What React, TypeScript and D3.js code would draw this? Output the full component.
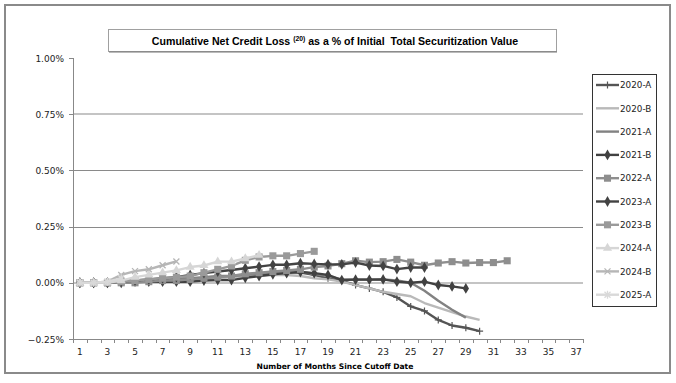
import React from "react";
import * as d3 from "d3";

const months = d3.range(1, 38);
const yTicks = [-0.25, 0, 0.25, 0.5, 0.75, 1.0];
const xLabelMonths = [1, 3, 5, 7, 9, 11, 13, 15, 17, 19, 21, 23, 25, 27, 29, 31, 33, 35, 37];

const s2020A = [0, 0, 0, 0.005, 0.01, 0.01, 0.015, 0.015, 0.02, 0.02, 0.025, 0.03, 0.035, 0.04, 0.045, 0.05, 0.045, 0.035, 0.02, 0.01, -0.01, -0.025, -0.04, -0.065, -0.105, -0.125, -0.165, -0.19, -0.2, -0.215];
const s2020B = [0, 0, 0, 0.005, 0.005, 0.01, 0.01, 0.015, 0.015, 0.02, 0.02, 0.025, 0.03, 0.03, 0.035, 0.035, 0.03, 0.02, 0.015, 0.005, -0.01, -0.025, -0.04, -0.05, -0.06, -0.09, -0.11, -0.13, -0.15, -0.165];
const s2021A = [0, 0, 0, 0.005, 0.01, 0.01, 0.015, 0.02, 0.02, 0.025, 0.03, 0.03, 0.035, 0.04, 0.045, 0.05, 0.05, 0.04, 0.03, 0.015, 0.015, 0.015, 0.015, 0.01, 0.0, -0.035, -0.08, -0.12, -0.155];
const s2021B = [0, 0, 0, 0, 0.005, 0.005, 0.005, 0.005, 0.005, 0.01, 0.012, 0.012, 0.022, 0.03, 0.038, 0.043, 0.048, 0.043, 0.035, 0.012, 0.014, 0.014, 0.015, 0.005, 0.0, 0.005, -0.01, -0.016, -0.025];
const s2022A = [0, 0, 0, 0, 0, 0.005, 0.01, 0.01, 0.015, 0.02, 0.025, 0.03, 0.04, 0.045, 0.05, 0.055, 0.06, 0.07, 0.075, 0.085, 0.098, 0.092, 0.094, 0.104, 0.092, 0.078, 0.088, 0.094, 0.088, 0.09, 0.09, 0.098];
const s2023A = [0, 0, 0, 0.005, 0.01, 0.015, 0.02, 0.025, 0.035, 0.043, 0.05, 0.057, 0.065, 0.072, 0.08, 0.08, 0.087, 0.084, 0.082, 0.082, 0.09, 0.077, 0.075, 0.061, 0.068, 0.068];
const s2023B = [0, 0, 0, 0.005, 0.01, 0.015, 0.02, 0.025, 0.03, 0.045, 0.06, 0.075, 0.1, 0.115, 0.12, 0.12, 0.13, 0.14];
const s2024A = [0, 0, 0, 0.01, 0.025, 0.035, 0.045, 0.055, 0.07, 0.077, 0.094, 0.094, 0.108, 0.123];
const s2024B = [0, 0, 0.005, 0.035, 0.052, 0.06, 0.078, 0.095];
const s2025A = [0, 0, 0.005, 0.02];

type Marker = "plus" | "none" | "diamond" | "square" | "triangle" | "x" | "star";
const seriesNames = ["2020-A", "2020-B", "2021-A", "2021-B", "2022-A", "2023-A", "2023-B", "2024-A", "2024-B", "2025-A"];
const seriesValues = [s2020A, s2020B, s2021A, s2021B, s2022A, s2023A, s2023B, s2024A, s2024B, s2025A];
const seriesColors = ["#555555", "#b9b9b9", "#828282", "#414141", "#8e8e8e", "#434343", "#9a9a9a", "#d6d6d6", "#b6b6b6", "#d9d9d9"];
const seriesMarkers: Marker[] = ["plus", "none", "none", "diamond", "square", "diamond", "square", "triangle", "x", "star"];

function MarkerShape({ kind, color, x, y }: { kind: Marker; color: string; x: number; y: number }) {
  const t = `translate(${x},${y})`;
  if (kind === "none") return null;
  if (kind === "plus")
    return <path transform={t} d="M-3.5,0H3.5M0,-3.5V3.5" stroke={color} strokeWidth={1.2} fill="none" />;
  if (kind === "x")
    return <path transform={t} d="M-3,-3L3,3M-3,3L3,-3" stroke={color} strokeWidth={1.3} fill="none" />;
  if (kind === "star")
    return <path transform={t} d="M-3,-3L3,3M-3,3L3,-3M0,-4V4" stroke={color} strokeWidth={1.3} fill="none" />;
  const sym =
    kind === "diamond" ? d3.symbolDiamond : kind === "square" ? d3.symbolSquare : d3.symbolTriangle;
  const size = kind === "diamond" ? 34 : kind === "square" ? 50 : 36;
  return <path transform={t} d={d3.symbol(sym, size)() || ""} fill={color} stroke="none" />;
}

export default function App() {
  const W = 676, H = 383;
  const left = 73, right = 583, top = 58, bottom = 339;
  const x = d3.scaleBand<number>().domain(months).range([left, right]);
  const cx = (m: number) => (x(m) as number) + x.bandwidth() / 2;
  const y = d3.scaleLinear().domain([-0.25, 1.0]).range([bottom, top]);
  const line = d3
    .line<number>()
    .x((_, i) => cx(i + 1))
    .y((d) => y(d));
  const font = "'DejaVu Sans', Verdana, sans-serif";
  const boundaries = d3.range(0, 38).map((i) => left + i * x.step());
  const legendX = 592, legendTop = 74;
  const rowH = 23.3;

  return (
    <svg width={W} height={H} style={{ position: "absolute", left: 0, top: 0, background: "#fff" }}>
      <rect x={0} y={0} width={W} height={H} fill="#fff" />
      <rect x={5} y={5} width={665} height={368} fill="#fff" stroke="#8a8a8a" strokeWidth={2} />

      {/* title box */}
      <rect x={108.5} y={29.5} width={448} height={22} fill="#fff" stroke="#a0a0a0" strokeWidth={1} />
      <line x1={109} x2={557} y1={52} y2={52} stroke="#777" strokeWidth={1} />
      <text x={335} y={44.5} textAnchor="middle" fontFamily="'Liberation Sans', Arial, sans-serif" fontWeight="bold" fontSize={10.6} fill="#000" style={{ whiteSpace: "pre" }}>
        {"Cumulative Net Credit Loss "}
        <tspan fontSize={6.8} dy={-3.8}>(20)</tspan>
        <tspan dy={3.8}>{" as a % of Initial\u00a0 Total Securitization Value"}</tspan>
      </text>

      {/* gridlines */}
      {yTicks.filter((t) => t > -0.25 && t < 1).map((t) => {
        const light = t === 0 || t === 0.75;
        return (
          <line key={t} x1={left} x2={right} y1={Math.round(y(t)) + (light ? 0 : 0.5)} y2={Math.round(y(t)) + (light ? 0 : 0.5)}
            stroke={light ? "#c4c4c4" : "#8a8a8a"} strokeWidth={light ? 2 : 1} />
        );
      })}

      {/* axes */}
      <line x1={left + 0.5} x2={left + 0.5} y1={top} y2={bottom} stroke="#888" strokeWidth={1} />
      <line x1={left} x2={right} y1={bottom + 0.5} y2={bottom + 0.5} stroke="#888" strokeWidth={1} />
      {yTicks.map((t) => (
        <g key={t}>
          <line x1={left - 4} x2={left} y1={Math.round(y(t)) + 0.5} y2={Math.round(y(t)) + 0.5} stroke="#888" />
          <text x={left - 9} y={y(t) + 3.5} textAnchor="end" fontFamily={font} fontSize={9} fill="#222">
            {d3.format(".2f")(t)}%
          </text>
        </g>
      ))}
      {boundaries.map((b, i) => (
        <line key={i} x1={Math.round(b) + 0.5} x2={Math.round(b) + 0.5} y1={bottom} y2={bottom + 4} stroke="#888" />
      ))}
      {xLabelMonths.map((m) => (
        <text key={m} x={cx(m)} y={bottom + 16} textAnchor="middle" fontFamily={font} fontSize={9} fill="#222">
          {m}
        </text>
      ))}
      <text x={335} y={369} textAnchor="middle" fontFamily={font} fontWeight="bold" fontSize={7.6} fill="#000">
        Number of Months Since Cutoff Date
      </text>

      {/* series */}
      {seriesValues.map((vals, si) => (
        <g key={seriesNames[si]}>
          <path d={line(vals) || ""} fill="none" stroke={seriesColors[si]} strokeWidth={2.4} strokeLinejoin="round" />
          {vals.map((v, i) => (
            <MarkerShape key={i} kind={seriesMarkers[si]} color={seriesColors[si]} x={cx(i + 1)} y={y(v)} />
          ))}
        </g>
      ))}

      {/* legend */}
      <rect x={legendX + 0.5} y={legendTop + 0.5} width={64} height={232} fill="#fff" stroke="#333" strokeWidth={1} />
      {seriesNames.map((n, i) => {
        const ly = legendTop + 11 + i * rowH;
        return (
          <g key={n}>
            <line x1={legendX + 4} x2={legendX + 27} y1={ly} y2={ly} stroke={seriesColors[i]} strokeWidth={2.4} />
            <MarkerShape kind={seriesMarkers[i]} color={seriesColors[i]} x={legendX + 15.5} y={ly} />
            <text x={legendX + 28} y={ly + 3.2} fontFamily={font} fontSize={8.8} fill="#222">{n}</text>
          </g>
        );
      })}
    </svg>
  );
}
